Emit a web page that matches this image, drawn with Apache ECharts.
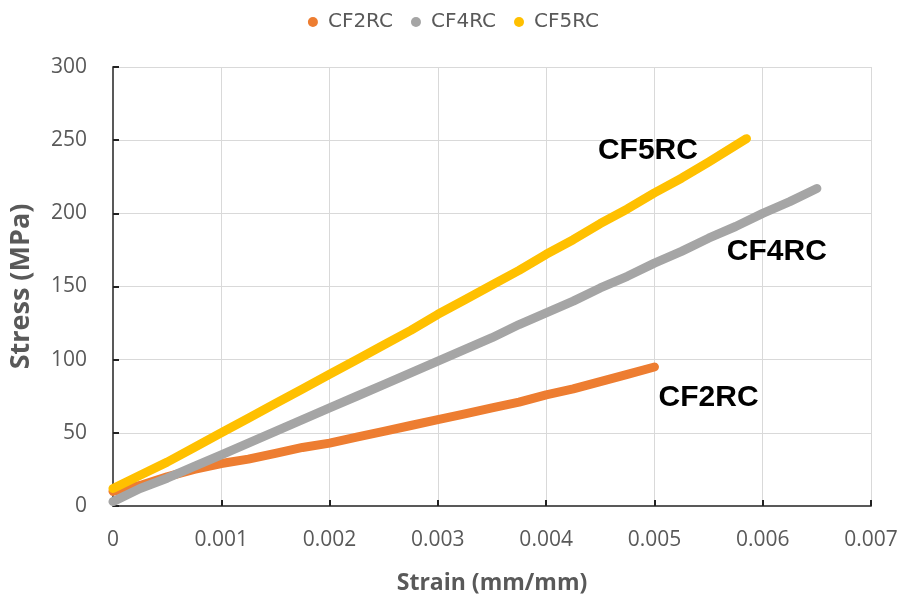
<!DOCTYPE html>
<html><head><meta charset="utf-8">
<script src="https://cdn.jsdelivr.net/npm/echarts@6/dist/echarts.min.js"></script>
<style>html,body{margin:0;padding:0;background:#fff}#c{width:907px;height:600px}</style>
</head><body><div id="c"></div>
<script>
const seriesNames = ['CF2RC', 'CF4RC', 'CF5RC'];
const colors = ['#ED7D31', '#A5A5A5', '#FFC000'];
const cf2Strain = [0,0.00025,0.0005,0.00075,0.001,0.00125,0.0015,0.00175,0.002,0.00225,0.0025,0.00275,0.003,0.00325,0.0035,0.00375,0.004,0.00425,0.0045,0.00475,0.005];
const cf2Stress = [10,14,20,25,29,32,36,40,43,47,51,55,59,63,67,71,76,80,85,90,95];
const cf4Strain = [0,0.00025,0.0005,0.00075,0.001,0.00125,0.0015,0.00175,0.002,0.00225,0.0025,0.00275,0.003,0.00325,0.0035,0.00375,0.004,0.00425,0.0045,0.00475,0.005,0.00525,0.0055,0.00575,0.006,0.00625,0.0065];
const cf4Stress = [3,12,19,27,35,43,51,59,67,75,83,91,99,107,115,124,132,140,149,157,166,174,183,191,200,208,217];
const cf5Strain = [0,0.00025,0.0005,0.00075,0.001,0.00125,0.0015,0.00175,0.002,0.00225,0.0025,0.00275,0.003,0.00325,0.0035,0.00375,0.004,0.00425,0.0045,0.00475,0.005,0.00525,0.0055,0.00585];
const cf5Stress = [12,21,30,40,50,60,70,80,90,100,110,120,131,141,151,161,172,182,193,203,214,224,235,251];
const labelPos = [[0.00550, 74], [0.00613, 174], [0.00494, 243]];
const xTicks = ['0','0.001','0.002','0.003','0.004','0.005','0.006','0.007'];

const strains = [cf2Strain, cf4Strain, cf5Strain];
const stresses = [cf2Stress, cf4Stress, cf5Stress];
const txt = '#595959';
const chart = echarts.init(document.getElementById('c'));
chart.setOption({
  animation: false,
  legend: {
    top: 7, left: 'center', icon: 'circle', itemWidth: 20, itemHeight: 10, itemGap: 18,
    textStyle: {color: txt, fontSize: 20, fontFamily: 'DejaVu Sans'},
    data: seriesNames
  },
  grid: {left: 111, right: 36, top: 67, bottom: 93},
  xAxis: {
    type: 'value', min: 0, max: 0.007, interval: 0.001,
    name: 'Strain (mm/mm)', nameLocation: 'middle', nameGap: 66,
    nameTextStyle: {color: txt, fontSize: 23, fontWeight: 'bold', fontFamily: 'Open Sans'},
    axisLine: {show: true, lineStyle: {color: '#595959', width: 2}},
    axisTick: {show: true, inside: true, length: 6, lineStyle: {color: '#222', width: 2}},
    axisLabel: {color: txt, fontSize: 21, margin: 24, fontFamily: 'Open Sans',
      formatter: function (v) { return xTicks[Math.round(v * 1000)]; }},
    splitLine: {show: true, lineStyle: {color: '#d9d9d9', width: 1}}
  },
  yAxis: {
    type: 'value', min: 0, max: 300, interval: 50,
    name: 'Stress (MPa)', nameLocation: 'middle', nameGap: 78,
    nameTextStyle: {color: txt, fontSize: 27, fontWeight: 'bold', fontFamily: 'Open Sans'},
    axisLine: {show: true, lineStyle: {color: '#595959', width: 2}},
    axisTick: {show: true, inside: true, length: 6, lineStyle: {color: '#222', width: 2}},
    axisLabel: {color: txt, fontSize: 21, margin: 26, fontFamily: 'Open Sans'},
    splitLine: {show: true, lineStyle: {color: '#d9d9d9', width: 1}}
  },
  series: seriesNames.map(function (n, i) {
    return {
      name: n, type: 'line', showSymbol: false, symbol: 'circle', color: colors[i],
      lineStyle: {width: 9, cap: 'round', join: 'round', color: colors[i]},
      data: strains[i].map(function (x, k) { return [x, stresses[i][k]]; }),
      markPoint: {
        symbol: 'circle', symbolSize: 0, silent: true,
        label: {show: true, position: 'inside', formatter: n, color: '#000', fontSize: 30, fontWeight: 'bold', fontFamily: 'Liberation Sans'},
        data: [{coord: labelPos[i]}]
      }
    };
  })
});
</script></body></html>
